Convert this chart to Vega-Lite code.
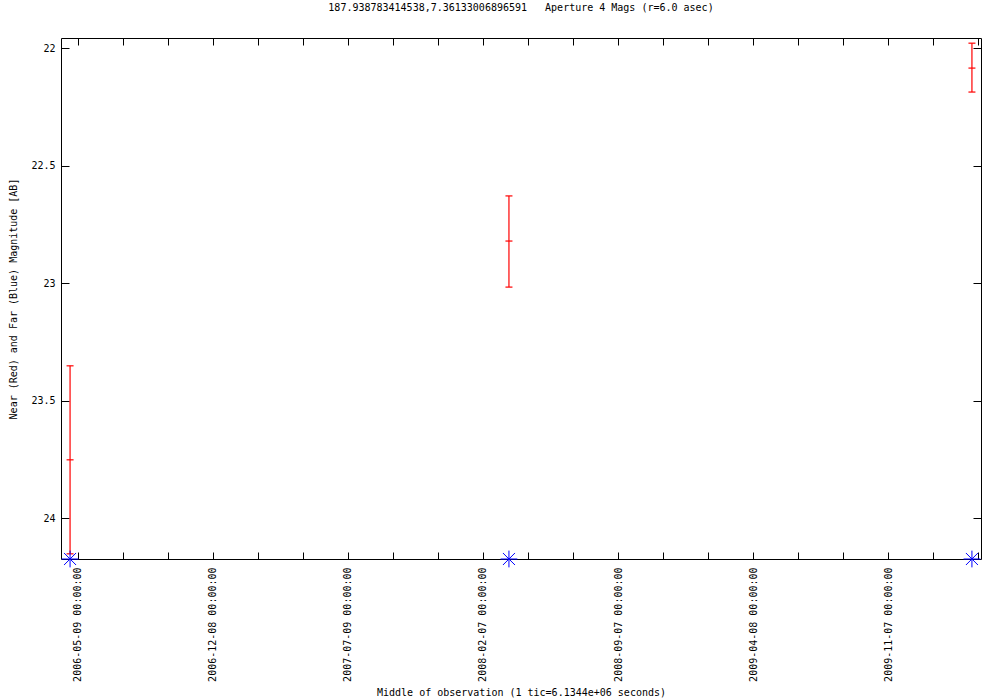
{
  "$schema": "https://vega.github.io/schema/vega-lite/v6.json",
  "width": 920,
  "height": 521,
  "autosize": {"type": "none"},
  "padding": {"left": 61, "top": 38, "right": 19, "bottom": 141},
  "background": "white",
  "title": {
    "text": "187.938783414538,7.36133006896591\u00a0\u00a0\u00a0Aperture 4 Mags (r=6.0 asec)",
    "font": "DejaVu Sans Mono",
    "fontSize": 10,
    "fontWeight": "normal",
    "color": "black",
    "anchor": "middle",
    "baseline": "bottom",
    "offset": 15
  },
  "config": {
    "view": {"stroke": "black", "strokeWidth": 1},
    "font": "DejaVu Sans Mono",
    "axis": {
      "grid": false,
      "domain": false,
      "tickColor": "black",
      "tickWidth": 1,
      "labelFont": "DejaVu Sans Mono",
      "labelFontSize": 10,
      "labelColor": "black",
      "titleFont": "DejaVu Sans Mono",
      "titleFontSize": 10,
      "titleFontWeight": "normal",
      "titleColor": "black"
    }
  },
  "datasets": {
    "near": [
      {"date": "2006-04-27", "mag": 23.752, "lo": 23.352, "hi": 24.152},
      {"date": "2008-03-19", "mag": 22.821, "lo": 22.629, "hi": 23.017},
      {"date": "2010-03-19", "mag": 22.085, "lo": 21.979, "hi": 22.187}
    ],
    "far": [
      {"date": "2006-04-27", "mag": 24.174},
      {"date": "2008-03-19", "mag": 24.174},
      {"date": "2010-03-19", "mag": 24.174}
    ]
  },
  "layer": [
    {
      "data": {"name": "near"},
      "mark": {"type": "rule", "color": "#ff0000", "strokeWidth": 1.2},
      "encoding": {
        "x": {
          "field": "date", "type": "temporal",
          "scale": {"type": "utc", "nice": false, "domain": [{"year": 2006, "month": 4, "date": 12, "hours": 17, "utc": true}, {"year": 2010, "month": 4, "date": 2, "hours": 7, "utc": true}]},
          "axis": {
            "orient": "bottom",
            "title": "Middle of observation (1 tic=6.1344e+06 seconds)",
            "titlePadding": 6,
            "tickSize": -7,
            "labelAngle": -90,
            "labelPadding": 15,
            "labelFlush": false,
            "labelOverlap": false,
            "labelExpr": "round((datum.value - utc(2006,4,9))/86400000) % 213 == 0 ? utcFormat(datum.value, '%Y-%m-%d %H:%M:%S') : ''",
            "values": [
              {"year": 2006, "month": 5, "date": 9, "utc": true},
              {"year": 2006, "month": 7, "date": 19, "utc": true},
              {"year": 2006, "month": 9, "date": 28, "utc": true},
              {"year": 2006, "month": 12, "date": 8, "utc": true},
              {"year": 2007, "month": 2, "date": 17, "utc": true},
              {"year": 2007, "month": 4, "date": 29, "utc": true},
              {"year": 2007, "month": 7, "date": 9, "utc": true},
              {"year": 2007, "month": 9, "date": 18, "utc": true},
              {"year": 2007, "month": 11, "date": 28, "utc": true},
              {"year": 2008, "month": 2, "date": 7, "utc": true},
              {"year": 2008, "month": 4, "date": 18, "utc": true},
              {"year": 2008, "month": 6, "date": 28, "utc": true},
              {"year": 2008, "month": 9, "date": 7, "utc": true},
              {"year": 2008, "month": 11, "date": 17, "utc": true},
              {"year": 2009, "month": 1, "date": 27, "utc": true},
              {"year": 2009, "month": 4, "date": 8, "utc": true},
              {"year": 2009, "month": 6, "date": 18, "utc": true},
              {"year": 2009, "month": 8, "date": 28, "utc": true},
              {"year": 2009, "month": 11, "date": 7, "utc": true},
              {"year": 2010, "month": 1, "date": 17, "utc": true},
              {"year": 2010, "month": 3, "date": 29, "utc": true}
            ]
          }
        },
        "y": {
          "field": "lo", "type": "quantitative",
          "scale": {"domain": [21.957, 24.174], "reverse": true, "zero": false, "nice": false},
          "axis": {
            "orient": "left",
            "title": "Near (Red) and Far (Blue) Magnitude [AB]",
            "titlePadding": 12,
            "tickSize": -8,
            "labelPadding": 14,
            "labelFlush": false,
            "labelOverlap": false,
            "values": [22, 22.5, 23, 23.5, 24],
            "labelExpr": "'' + datum.value"
          }
        },
        "y2": {"field": "hi"}
      }
    },
    {
      "data": {"name": "near"},
      "mark": {"type": "point", "shape": "M-1,0L1,0", "size": 49, "filled": false, "stroke": "#ff0000", "strokeWidth": 1.2, "opacity": 1},
      "encoding": {
        "x": {"field": "date", "type": "temporal", "axis": null,
          "scale": {"type": "utc", "nice": false, "domain": [{"year": 2006, "month": 4, "date": 12, "hours": 17, "utc": true}, {"year": 2010, "month": 4, "date": 2, "hours": 7, "utc": true}]}},
        "y": {"field": "lo", "type": "quantitative", "axis": null,
          "scale": {"domain": [21.957, 24.174], "reverse": true, "zero": false, "nice": false}}
      }
    },
    {
      "data": {"name": "near"},
      "mark": {"type": "point", "shape": "M-1,0L1,0", "size": 49, "filled": false, "stroke": "#ff0000", "strokeWidth": 1.2, "opacity": 1},
      "encoding": {
        "x": {"field": "date", "type": "temporal", "axis": null,
          "scale": {"type": "utc", "nice": false, "domain": [{"year": 2006, "month": 4, "date": 12, "hours": 17, "utc": true}, {"year": 2010, "month": 4, "date": 2, "hours": 7, "utc": true}]}},
        "y": {"field": "hi", "type": "quantitative", "axis": null,
          "scale": {"domain": [21.957, 24.174], "reverse": true, "zero": false, "nice": false}}
      }
    },
    {
      "data": {"name": "near"},
      "mark": {"type": "point", "shape": "M-1,0L1,0", "size": 49, "filled": false, "stroke": "#ff0000", "strokeWidth": 1.2, "opacity": 1},
      "encoding": {
        "x": {"field": "date", "type": "temporal", "axis": null,
          "scale": {"type": "utc", "nice": false, "domain": [{"year": 2006, "month": 4, "date": 12, "hours": 17, "utc": true}, {"year": 2010, "month": 4, "date": 2, "hours": 7, "utc": true}]}},
        "y": {"field": "mag", "type": "quantitative", "axis": null,
          "scale": {"domain": [21.957, 24.174], "reverse": true, "zero": false, "nice": false}}
      }
    },
    {
      "data": {"name": "far"},
      "mark": {"type": "point", "shape": "M-1,0L1,0M0,-1L0,1M-0.72,-0.72L0.72,0.72M-0.72,0.72L0.72,-0.72", "size": 280, "filled": false, "stroke": "#0000ff", "strokeWidth": 1, "opacity": 1, "clip": false},
      "encoding": {
        "x": {"field": "date", "type": "temporal",
          "scale": {"type": "utc", "nice": false, "domain": [{"year": 2006, "month": 4, "date": 12, "hours": 17, "utc": true}, {"year": 2010, "month": 4, "date": 2, "hours": 7, "utc": true}]},
          "axis": {
            "orient": "top", "title": null, "labels": false, "tickSize": -7,
            "values": [
              {"year": 2006, "month": 5, "date": 9, "utc": true},
              {"year": 2006, "month": 7, "date": 19, "utc": true},
              {"year": 2006, "month": 9, "date": 28, "utc": true},
              {"year": 2006, "month": 12, "date": 8, "utc": true},
              {"year": 2007, "month": 2, "date": 17, "utc": true},
              {"year": 2007, "month": 4, "date": 29, "utc": true},
              {"year": 2007, "month": 7, "date": 9, "utc": true},
              {"year": 2007, "month": 9, "date": 18, "utc": true},
              {"year": 2007, "month": 11, "date": 28, "utc": true},
              {"year": 2008, "month": 2, "date": 7, "utc": true},
              {"year": 2008, "month": 4, "date": 18, "utc": true},
              {"year": 2008, "month": 6, "date": 28, "utc": true},
              {"year": 2008, "month": 9, "date": 7, "utc": true},
              {"year": 2008, "month": 11, "date": 17, "utc": true},
              {"year": 2009, "month": 1, "date": 27, "utc": true},
              {"year": 2009, "month": 4, "date": 8, "utc": true},
              {"year": 2009, "month": 6, "date": 18, "utc": true},
              {"year": 2009, "month": 8, "date": 28, "utc": true},
              {"year": 2009, "month": 11, "date": 7, "utc": true},
              {"year": 2010, "month": 1, "date": 17, "utc": true},
              {"year": 2010, "month": 3, "date": 29, "utc": true}
            ]
          }
        },
        "y": {"field": "mag", "type": "quantitative",
          "scale": {"domain": [21.957, 24.174], "reverse": true, "zero": false, "nice": false},
          "axis": {"orient": "right", "title": null, "labels": false, "tickSize": -8, "values": [22, 22.5, 23, 23.5, 24]}
        }
      }
    }
  ],
  "resolve": {"axis": {"x": "independent", "y": "independent"}}
}
